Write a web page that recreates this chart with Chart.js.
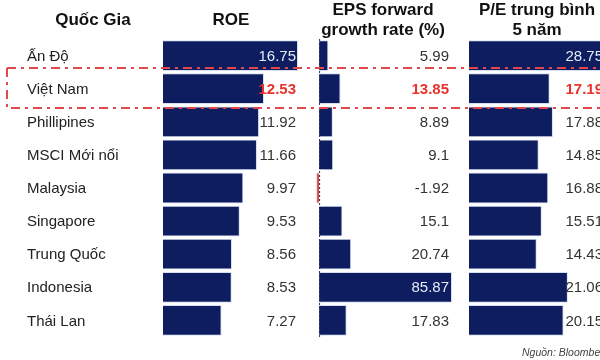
<!DOCTYPE html>
<html>
<head>
<meta charset="utf-8">
<script src="https://cdn.jsdelivr.net/npm/chart.js@4.4.1/dist/chart.umd.min.js"></script>
<style>
  html, body { margin: 0; padding: 0; background: #fff; }
  body { width: 600px; height: 360px; overflow: hidden; position: relative; font-family: 'Liberation Sans', Arial, sans-serif; }
  canvas { position: absolute; left: 0; top: 0; }
  .hd { position: absolute; font-weight: bold; font-size: 17px; color: #111; text-align: center; line-height: 20px; }
  .src { position: absolute; left: 522px; top: 346px; font-size: 10.5px; font-style: italic; color: #444; white-space: nowrap; }
  svg { position: absolute; left: 0; top: 0; }
</style>
</head>
<body>
<canvas id="roe" width="610" height="360"></canvas>
<canvas id="eps" width="610" height="360"></canvas>
<canvas id="pe" width="610" height="360"></canvas>

<div class="hd" style="left:33px;top:10px;width:120px">Quốc Gia</div>
<div class="hd" style="left:181px;top:10px;width:100px">ROE</div>
<div class="hd" style="left:313px;top:0px;width:140px">EPS forward<br>growth rate (%)</div>
<div class="hd" style="left:467px;top:0px;width:140px">P/E trung bình<br>5 năm</div>
<div class="src">Nguồn: Bloomberg</div>

<svg width="600" height="360">
  <path d="M7 68 L600 68 M7 68 L7 108 L600 108" fill="none" stroke="#e2474c" stroke-width="2" stroke-dasharray="9 5 3 5"/>
</svg>

<script>
const countries = ['Ấn Độ', 'Việt Nam', 'Phillipines', 'MSCI Mới nổi', 'Malaysia', 'Singapore', 'Trung Quốc', 'Indonesia', 'Thái Lan']
const roe = [16.75, 12.53, 11.92, 11.66, 9.97, 9.53, 8.56, 8.53, 7.27]
const eps = [5.99, 13.85, 8.89, 9.1, -1.92, 15.1, 20.74, 85.87, 17.83]
const pe = [28.75, 17.19, 17.88, 14.85, 16.88, 15.51, 14.43, 21.06, 20.15]

const navy = '#0d1d5f'
const font = "'Liberation Sans', Arial, sans-serif"

// value labels, right aligned near the right edge of each panel
const valueLabels = {
  id: 'valueLabels',
  afterDatasetsDraw(chart, args, opts) {
    const ctx = chart.ctx
    const meta = chart.getDatasetMeta(0)
    const data = chart.data.datasets[0].data
    const maxIdx = data.indexOf(Math.max(...data))
    ctx.save()
    ctx.textAlign = 'right'
    ctx.textBaseline = 'middle'
    meta.data.forEach((bar, i) => {
      if (i === 1) {
        ctx.fillStyle = '#e8322b'
        ctx.font = 'bold 15px ' + font
      } else {
        ctx.fillStyle = i === maxIdx ? '#e4eaf7' : '#333'
        ctx.font = '15px ' + font
      }
      ctx.fillText(String(data[i]), chart.chartArea.right - opts.inset, bar.y + 1)
    })
    ctx.restore()
  }
}

// country names on the left
const countryLabels = {
  id: 'countryLabels',
  afterDatasetsDraw(chart) {
    const ctx = chart.ctx
    const meta = chart.getDatasetMeta(0)
    ctx.save()
    ctx.textAlign = 'left'
    ctx.textBaseline = 'middle'
    ctx.fillStyle = '#222'
    ctx.font = '15px ' + font
    meta.data.forEach((bar, i) => {
      ctx.fillText(countries[i], 27, bar.y + 1)
    })
    ctx.restore()
  }
}

// dotted zero line for the EPS panel
const zeroLine = {
  id: 'zeroLine',
  afterDatasetsDraw(chart) {
    const ctx = chart.ctx
    const x = chart.scales.x.getPixelForValue(0)
    ctx.save()
    ctx.strokeStyle = '#1b2a5e'
    ctx.lineWidth = 1
    ctx.setLineDash([2, 2])
    ctx.beginPath()
    ctx.moveTo(x + 0.5, chart.chartArea.top)
    ctx.lineTo(x + 0.5, chart.chartArea.bottom)
    ctx.stroke()
    ctx.restore()
  }
}

function makeChart(id, values, min, max, left, right, inset, colors, extra) {
  return new Chart(document.getElementById(id), {
    type: 'bar',
    data: {
      labels: countries,
      datasets: [{
        data: values,
        backgroundColor: colors,
        borderColor: '#d6deef',
        borderWidth: 1,
        categoryPercentage: 1,
        barPercentage: 0.93,
      }],
    },
    options: {
      indexAxis: 'y',
      responsive: false,
      animation: false,
      devicePixelRatio: 1,
      layout: { padding: { left: left, right: right, top: 39, bottom: 23 } },
      scales: {
        x: { display: false, min: min, max: max },
        y: { display: false },
      },
      plugins: {
        legend: { display: false },
        tooltip: { enabled: false },
        valueLabels: { inset: inset },
      },
    },
    plugins: [valueLabels].concat(extra),
  })
}

makeChart('roe', roe, 0, 16.75, 163, 610 - 298, 2, navy, [countryLabels])
makeChart('eps', eps, -2, 85.87, 316, 610 - 452, 3, eps.map(v => v < 0 ? '#e0443a' : navy), [zeroLine])
makeChart('pe', pe, 0, 28.75, 469, 610 - 604, 1, navy, [])
</script>
</body>
</html>
